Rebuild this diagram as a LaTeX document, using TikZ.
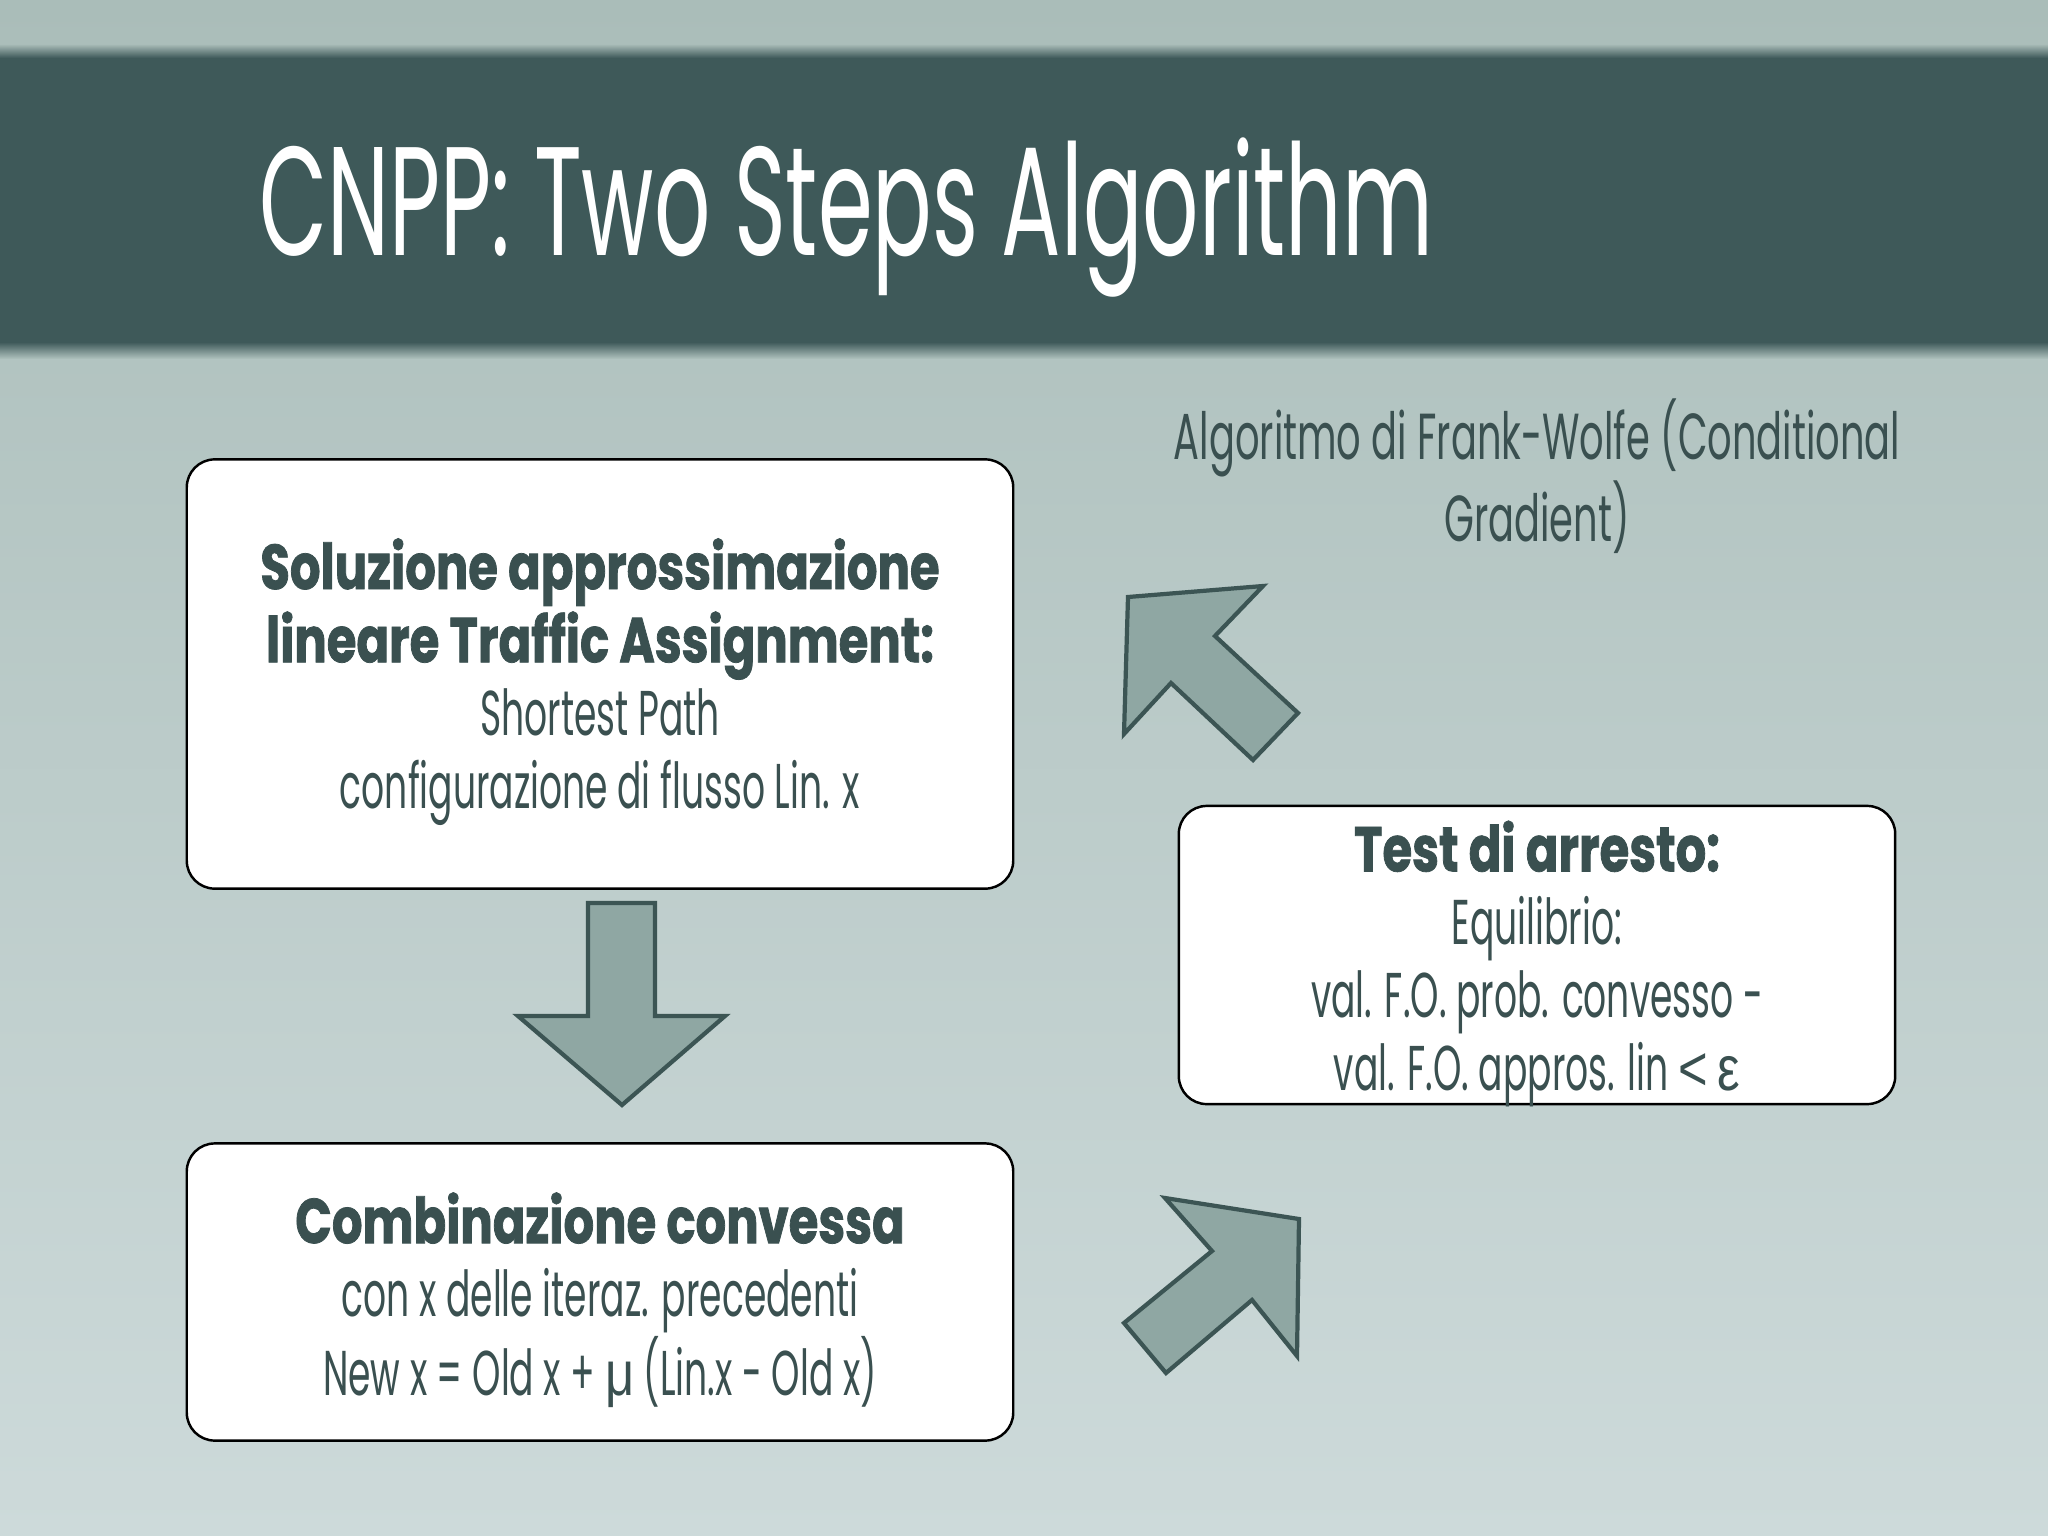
\documentclass[tikz,border=0pt]{standalone}
\usepackage{fontspec}
\usetikzlibrary{positioning}
\newfontfamily\slidefont{Poppins}[FakeStretch=0.57,BoldFeatures={FakeStretch=0.76,FakeBold=1.2}]
\newfontfamily\notefont{Poppins}[FakeStretch=0.59]
\newfontfamily\greekfont{Liberation Sans}[FakeStretch=0.8]
\definecolor{bgtop}{RGB}{170,189,185}
\definecolor{bgmid}{RGB}{187,203,201}
\definecolor{bgbot}{RGB}{205,218,218}
\definecolor{barcol}{RGB}{62,89,89}
\definecolor{inkcol}{RGB}{58,80,80}
\definecolor{arrowfill}{RGB}{143,167,163}
\definecolor{arrowline}{RGB}{60,85,84}

\begin{document}
\begin{tikzpicture}
    [x=0.01cm, y=-0.01cm,
      stepbox/.style={draw=black, line width=0.7pt, fill=white, rounded corners=0.28cm},
      steptext/.style={align=center, inner sep=0pt, text=inkcol, font=\slidefont\fontsize{18}{20.8}\selectfont},
      bigarrow/.style={fill=arrowfill, draw=arrowline, line width=1.2pt, line join=miter},
    ]
    \useasboundingbox (0,0) rectangle (2048,1536);
    % background and title bar
    \shade [top color=bgtop, middle color=bgmid, bottom color=bgbot] (0,0) rectangle (2048,1536);
    \fill [barcol] (0,58) rectangle (2048,342);
    \shade [top color=bgtop, bottom color=barcol] (0,44) rectangle (2048,58);
    \shade [top color=barcol, bottom color=bgtop] (0,342) rectangle (2048,358);
    \node [anchor=base west, inner sep=0pt, text=white, font=\slidefont\fontsize{44}{48}\selectfont] (title) at (259,255) {CNPP: Two Steps Algorithm};

    % the three steps
    \node [stepbox, minimum width=8.26cm, minimum height=4.29cm] (linear) at (600,674) {};
    \node [steptext] (lineartext) at ([yshift=-0.08cm]linear.center)
      {\textbf{Soluzione approssimazione}\\ \textbf{lineare Traffic Assignment:}\\ Shortest Path\\ configurazione di flusso Lin. x};
    \node [stepbox, minimum width=8.26cm, minimum height=2.97cm] (combo) at (600,1292) {};
    \node [steptext] (combotext) at ([yshift=-0.08cm]combo.center)
      {\textbf{Combinazione convessa}\\ con x delle iteraz. precedenti\\ New x = Old x + {\greekfont μ} (Lin.x - Old x)};
    \node [stepbox, minimum width=7.16cm, minimum height=2.98cm] (stop) at (1537,955) {};
    \node [steptext] (stoptext) at ([yshift=-0.09cm]stop.center)
      {\textbf{Test di arresto:}\\ Equilibrio:\\ val. F.O. prob. convesso -\\ val. F.O. appros. lin {\greekfont <} {\greekfont ε}};
    \node [align=center, text=inkcol, font=\notefont\fontsize{18.5}{20.2}\selectfont] (method) at (1537,476)
      {Algoritmo di Frank-Wolfe (Conditional\\ Gradient)};

    % block arrows
    \draw [bigarrow] (588,903) -- (655,903) -- (655,1016) -- (725,1016) -- (622,1105)
      -- (518,1016) -- (588,1016) -- cycle;
    \draw [bigarrow] (1128,597) -- (1263,586) -- (1215,636) -- (1298,713) -- (1253,760)
      -- (1171,683) -- (1124,734) -- cycle;
    \draw [bigarrow] (1165,1198) -- (1299,1219) -- (1297,1356) -- (1252,1300) -- (1166,1373)
      -- (1124,1323) -- (1212,1251) -- cycle;
  \end{tikzpicture}
\end{document}
